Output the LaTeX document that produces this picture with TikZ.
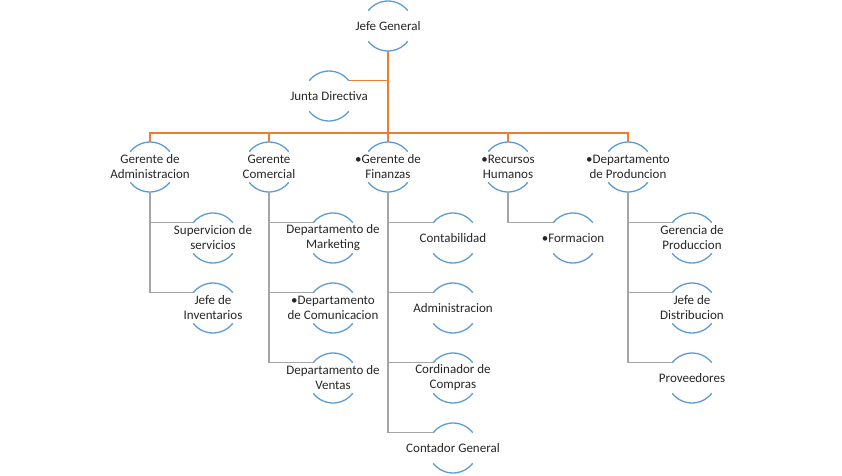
\documentclass[tikz,border=0pt]{standalone}
\usepackage{fontspec}
\setmainfont{Carlito}
\definecolor{arcblue}{HTML}{5B9BD5}
\definecolor{orgline}{HTML}{ED7D31}
\definecolor{grayline}{HTML}{A5A5A5}
\definecolor{txt}{HTML}{262626}
\begin{document}
\begin{tikzpicture}[x=1pt,y=-1pt,
  lbl/.style={font=\fontsize{13}{15}\selectfont, text=txt, align=center, inner sep=0pt},
  ring/.style={draw=arcblue, line width=1.3pt},
  orangeline/.style={draw=orgline, line width=1.5pt},
  grayconn/.style={draw=grayline, line width=1.5pt}]
\useasboundingbox (0,0) rectangle (842,475);
\node[lbl] (jg) at (388,26) {Jefe General};
\node[lbl] (jd) at (329,96) {Junta Directiva};
\node[lbl] (ad) at (150,167) {Gerente de\\Administracion};
\node[lbl] (co) at (269,167) {Gerente\\Comercial};
\node[lbl] (fi) at (388,167) {•Gerente de\\Finanzas};
\node[lbl] (rh) at (508,167) {•Recursos\\Humanos};
\node[lbl] (dp) at (628,167) {•Departamento\\de Produncion};
\node[lbl] (ad1) at (213,238) {Supervicion de\\servicios};
\node[lbl] (ad2) at (213,308) {Jefe de\\Inventarios};
\node[lbl] (co1) at (333,238) {Departamento de\\Marketing};
\node[lbl] (co2) at (333,308) {•Departamento\\de Comunicacion};
\node[lbl] (co3) at (333,378) {Departamento de\\Ventas};
\node[lbl] (fi1) at (453,238) {Contabilidad};
\node[lbl] (fi2) at (453,308) {Administracion};
\node[lbl] (fi3) at (453,378) {Cordinador de\\Compras};
\node[lbl] (fi4) at (453,448) {Contador General};
\node[lbl] (rh1) at (573,238) {•Formacion};
\node[lbl] (dp1) at (692,238) {Gerencia de\\Produccion};
\node[lbl] (dp2) at (692,308) {Jefe de\\Distribucion};
\node[lbl] (dp3) at (692,378) {Proveedores};
% arcs
\foreach \n in {jg,jd,ad,co,fi,rh,dp,ad1,ad2,co1,co2,co3,fi1,fi2,fi3,fi4,rh1,dp1,dp2,dp3}{
  \draw[ring] ([shift={(38:25pt)}]\n.center) arc[start angle=38,end angle=142,radius=25pt];
  \draw[ring] ([shift={(218:25pt)}]\n.center) arc[start angle=218,end angle=322,radius=25pt];
}
% orange connectors
\coordinate (bus) at (388,133);
\draw[orangeline] ([yshift=-25pt]jg.center) -- (bus);
\draw[orangeline] ([shift={(38:25pt)}]jd.center) -| (bus);
\foreach \n in {ad,co,fi,rh,dp}{
  \draw[orangeline] (bus) -| ([yshift=25pt]\n.center);
}
% gray connectors
\foreach \p/\c in {ad/ad1,ad/ad2,co/co1,co/co2,co/co3,fi/fi1,fi/fi2,fi/fi3,fi/fi4,rh/rh1,dp/dp1,dp/dp2,dp/dp3}{
  \draw[grayconn] ([yshift=-25pt]\p.center) |- ([shift={(142:25pt)}]\c.center);
}
\end{tikzpicture}
\end{document}
